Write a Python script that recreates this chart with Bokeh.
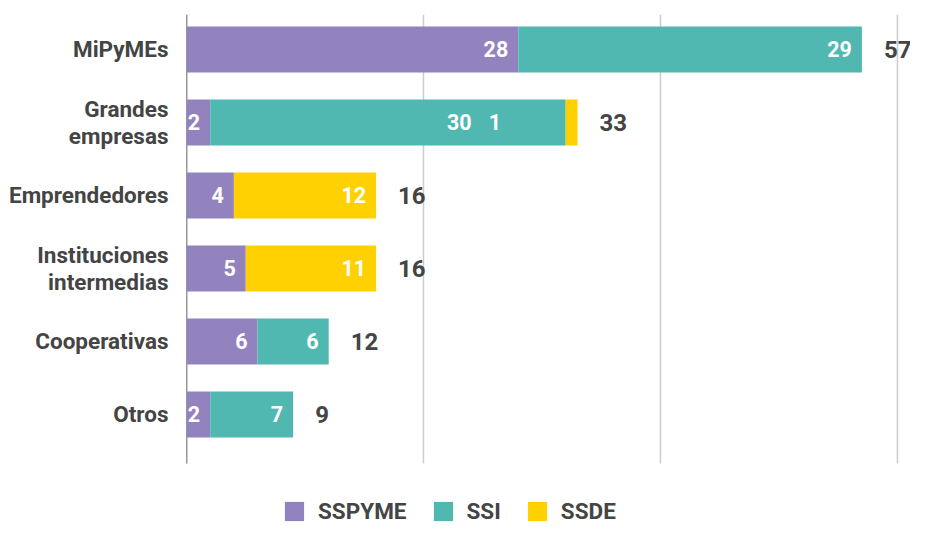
from bokeh.plotting import figure
from bokeh.models import Range1d, FixedTicker, ColumnDataSource, Legend, LegendItem
from bokeh.core.properties import value
from bokeh.embed import file_html
from bokeh.resources import INLINE

categories = ["MiPyMEs", "Grandes\nempresas", "Emprendedores",
              "Instituciones\nintermedias", "Cooperativas", "Otros"]
series_names = ["SSPYME", "SSI", "SSDE"]
sspyme = [28, 2, 4, 5, 6, 2]
ssi = [29, 30, 0, 0, 6, 7]
ssde = [0, 1, 12, 11, 0, 0]
grid_ticks = [0, 20, 40, 60]
colors = ["#9283BE", "#51B8B1", "#FFD102"]

FONT = "Roboto"
TXT = "#444444"

ypos = list(range(len(categories)))
totals = [a + b + c for a, b, c in zip(sspyme, ssi, ssde)]

W, H = 910, 524
Y_TOP, Y_BAND_END, Y_BOTTOM = -0.479, 5.672, 6.507
p = figure(width=W, height=H, output_backend="svg", toolbar_location=None,
           x_range=Range1d(0, 61.1), y_range=Range1d(Y_BOTTOM, Y_TOP),
           min_border_left=186, min_border_right=0, min_border_top=14,
           min_border_bottom=0)
p.outline_line_color = None
p.xaxis.visible = False
p.xgrid.visible = False
p.ygrid.visible = False

# grid lines and axis line limited to the category band
p.segment(x0=grid_ticks[1:], x1=grid_ticks[1:], y0=[Y_TOP] * 3, y1=[Y_BAND_END] * 3,
          line_color="#CCCCCC", line_width=1.5)
p.segment(x0=[0], x1=[0], y0=[Y_TOP], y1=[Y_BAND_END], line_color="#333333",
          line_width=1.5)

yax = p.yaxis[0]
yax.ticker = FixedTicker(ticks=ypos)
yax.major_label_overrides = {i: c for i, c in enumerate(categories)}
yax.major_tick_line_color = None
yax.minor_tick_line_color = None
yax.axis_line_color = None
yax.major_label_standoff = 12
yax.major_label_text_font = FONT
yax.major_label_text_font_style = "bold"
yax.major_label_text_font_size = "22.5px"
yax.major_label_text_line_height = 1.05
yax.major_label_text_color = TXT

series = [sspyme, ssi, ssde]
left = [0] * len(categories)
renderers = []
label_x, label_y, label_t = [], [], []
# label anchors nudged for the narrow Grandes empresas segments (as in the source chart)
label_shift = {(1, 1): -7.1, (1, 2): -5.6}
for s_idx, vals in enumerate(series):
    right = [l + v for l, v in zip(left, vals)]
    src = ColumnDataSource(dict(y=ypos, left=left, right=right))
    r = p.hbar(y="y", left="left", right="right", height=0.63, source=src,
               fill_color=colors[s_idx], line_color=None)
    renderers.append(r)
    for i, v in enumerate(vals):
        if v > 0:
            label_x.append(right[i] + label_shift.get((i, s_idx), 0))
            label_y.append(ypos[i])
            label_t.append(str(v))
    left = right

p.text(x=label_x, y=label_y, text=label_t, x_offset=-10, text_align="right",
       text_baseline="middle", text_color="white", text_font=value(FONT),
       text_font_style="bold", text_font_size="21.5px")

p.text(x=totals, y=ypos, text=[str(t) for t in totals], x_offset=22,
       text_align="left", text_baseline="middle", text_color=TXT,
       text_font=value(FONT), text_font_style="bold", text_font_size="24px")

legend = Legend(items=[LegendItem(label=n, renderers=[r]) for n, r in zip(series_names, renderers)],
                orientation="horizontal", location=(96, 0), margin=0, padding=0,
                border_line_color=None, background_fill_alpha=0,
                glyph_width=24, glyph_height=24, label_standoff=12, spacing=24,
                label_text_font=FONT, label_text_font_style="bold",
                label_text_font_size="22.5px", label_text_color=TXT)
p.add_layout(legend, "center")

open("out.html", "w").write(file_html(p, INLINE))
